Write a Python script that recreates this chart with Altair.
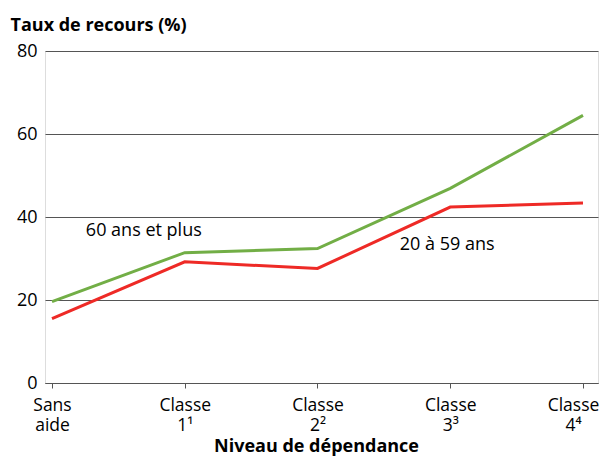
import altair as alt
import pandas as pd

categories = ["Sans\naide", "Classe\n1¹", "Classe\n2²", "Classe\n3³", "Classe\n4⁴"]
positions = [0, 1, 2, 3, 4]
older = [19.6, 31.4, 32.4, 46.9, 64.5]   # 60 ans et plus
younger = [15.5, 29.2, 27.6, 42.4, 43.4]  # 20 à 59 ans
series_names = ["60 ans et plus", "20 à 59 ans"]
series_colors = ["#72ae46", "#ee2a26"]
label_x = [0.255, 2.62]
label_y = [36.6, 33.3]

rows = []
for name, vals in zip(series_names, [older, younger]):
    for p, v in zip(positions, vals):
        rows.append({"pos": p, "value": v, "serie": name})
df = pd.DataFrame(rows)
lab = pd.DataFrame({"pos": label_x, "value": label_y, "serie": series_names})

FONT = "Open Sans"
cat_js = "[" + ",".join("'" + c.replace("\n", "\\n") + "'" for c in categories) + "]"

x = alt.X(
    "pos:Q",
    scale=alt.Scale(domain=[-0.0527, 4.113], nice=False, zero=False),
    axis=alt.Axis(
        values=positions,
        labelExpr=f"split({cat_js}[datum.value], '\\n')",
        grid=False,
        domain=True,
        domainColor="#555555",
        ticks=True,
        tickColor="#555555",
        tickSize=5,
        labelFontSize=17.5,
        labelLineHeight=20.5,
        labelPadding=8,
        labelOffset=alt.condition("datum.value == 4", alt.value(-10), alt.value(0)),
        labelColor="#000000",
        labelFont=FONT,
        labelOverlap=False,
        title="Niveau de dépendance",
        titleFont=FONT,
        titleFontSize=18,
        titleFontWeight="bold",
        titleColor="#000000",
        titleX=271,
        titleY=68,
        titleBaseline="alphabetic",
    ),
)
y = alt.Y(
    "value:Q",
    scale=alt.Scale(domain=[0, 80], nice=False),
    axis=alt.Axis(
        values=[0, 20, 40, 60, 80],
        grid=True,
        gridColor="#555555",
        gridWidth=1,
        domain=False,
        ticks=False,
        labelFontSize=18,
        labelPadding=8,
        labelColor="#000000",
        labelFont=FONT,
        title="Taux de recours (%)",
        titleFont=FONT,
        titleFontSize=18,
        titleFontWeight="bold",
        titleColor="#000000",
        titleAngle=0,
        titleAlign="left",
        titleBaseline="alphabetic",
        titleX=-35,
        titleY=-21,
    ),
)
color = alt.Color("serie:N", scale=alt.Scale(domain=series_names, range=series_colors), legend=None)

lines = alt.Chart(df).mark_line(strokeWidth=3).encode(x=x, y=y, color=color, detail="serie:N")
texts = alt.Chart(lab).mark_text(align="left", baseline="middle", font=FONT, fontSize=18, color="#000000").encode(
    x="pos:Q", y="value:Q", text="serie:N"
)

chart = alt.layer(lines, texts).properties(
    width=553,
    height=332,
    autosize=alt.AutoSizeParams(type="none"),
    padding={"left": 37, "top": 43, "right": 3, "bottom": 73},
).configure_view(stroke=None).configure(background="#ffffff")

chart.save("out.html", embed_options={"renderer": "svg", "actions": False})
